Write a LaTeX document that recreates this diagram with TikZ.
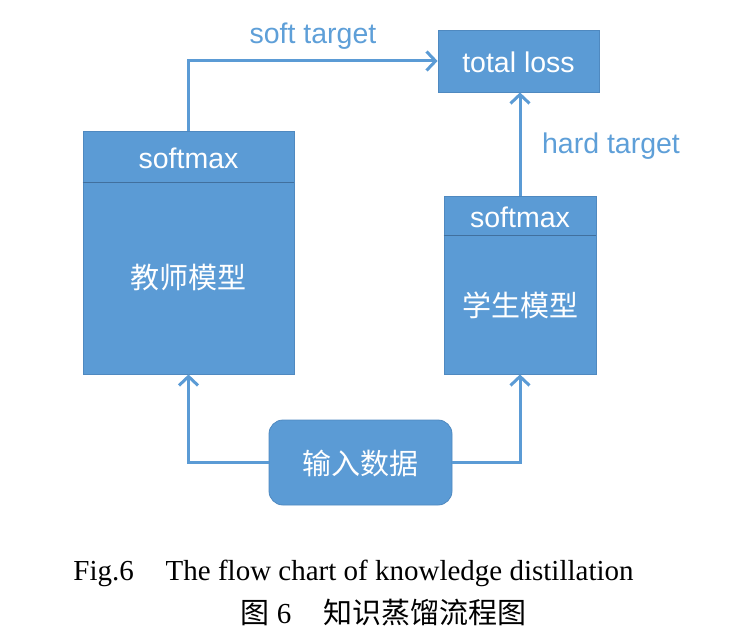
\documentclass[tikz,border=0pt]{standalone}
\usepackage{fontspec}
\setmainfont{Liberation Serif}
\newfontfamily\sansf{Liberation Sans}
\newfontfamily\cjk{Noto Sans CJK SC}
\usetikzlibrary{arrows.meta}
\definecolor{boxblue}{HTML}{5B9BD5}
\definecolor{boxedge}{HTML}{4F89C0}
\definecolor{divline}{HTML}{41709E}
\definecolor{lblblue}{HTML}{5E9FD8}
\tikzset{
  box/.style={draw=boxedge, line width=0.8pt, fill=boxblue, inner sep=0pt},
  rbox/.style={box, rounded corners=14pt},
  wtxt/.style={text=white, font=\sansf\fontsize{28.5}{32}\selectfont, inner sep=0pt},
  wcjk/.style={text=white, font=\cjk\fontsize{29}{33}\selectfont, inner sep=0pt},
  lbl/.style={text=lblblue, font=\sansf\fontsize{28.5}{32}\selectfont, inner sep=0pt},
  arr/.style={draw=boxblue, line width=3pt, -{Straight Barb[length=9pt,width=19pt,line width=3pt]}},
  divider/.style={draw=divline, line width=0.8pt},
  captxt/.style={font=\fontsize{29}{33}\selectfont, inner sep=0pt}
}
\begin{document}
\begin{tikzpicture}[x=1pt,y=-1pt]
\useasboundingbox (0,0) rectangle (732,642);
% boxes
\node[box, minimum width=161pt, minimum height=62pt] (total) at (518.5,61) {};
\node[wtxt] (totaltxt) at (518.5,62) {total loss};
\node[box, minimum width=211pt, minimum height=243pt] (teacher) at (188.5,252.5) {};
\draw[divider] ([yshift=-52pt]teacher.north west) -- ([yshift=-52pt]teacher.north east);
\node[wtxt] (tsoft) at (188.5,158) {softmax};
\node[wcjk] (tname) at (188.5,278) {教师模型};
\node[box, minimum width=152pt, minimum height=178pt] (student) at (520,285) {};
\draw[divider] ([yshift=-40pt]student.north west) -- ([yshift=-40pt]student.north east);
\node[wtxt] (ssoft) at (520,217) {softmax};
\node[wcjk] (sname) at (520,305) {学生模型};
\node[rbox, minimum width=183pt, minimum height=85pt] (input) at (360.5,462.5) {};
\node[wcjk] (intxt) at (360.5,463) {输入数据};
% connectors
\draw[arr] (teacher.north) |- (total.west);
\draw[arr] (student.north) -- (student.north |- total.south);
\draw[arr] (input.west) -| (teacher.south);
\draw[arr] (input.east) -| (student.south);
% labels
\node[lbl] (soft) at (313,36) {soft target};
\node[lbl] (hard) at (611,146) {hard target};
% caption
\node[captxt] (cap1) at (353.5,573) {Fig.6\hspace{1.1em}The flow chart of knowledge distillation};
\node[captxt] (cap2) at (383.5,613) {{\cjk 图} 6\hspace{1.1em}{\cjk 知识蒸馏流程图}};
\end{tikzpicture}
\end{document}
